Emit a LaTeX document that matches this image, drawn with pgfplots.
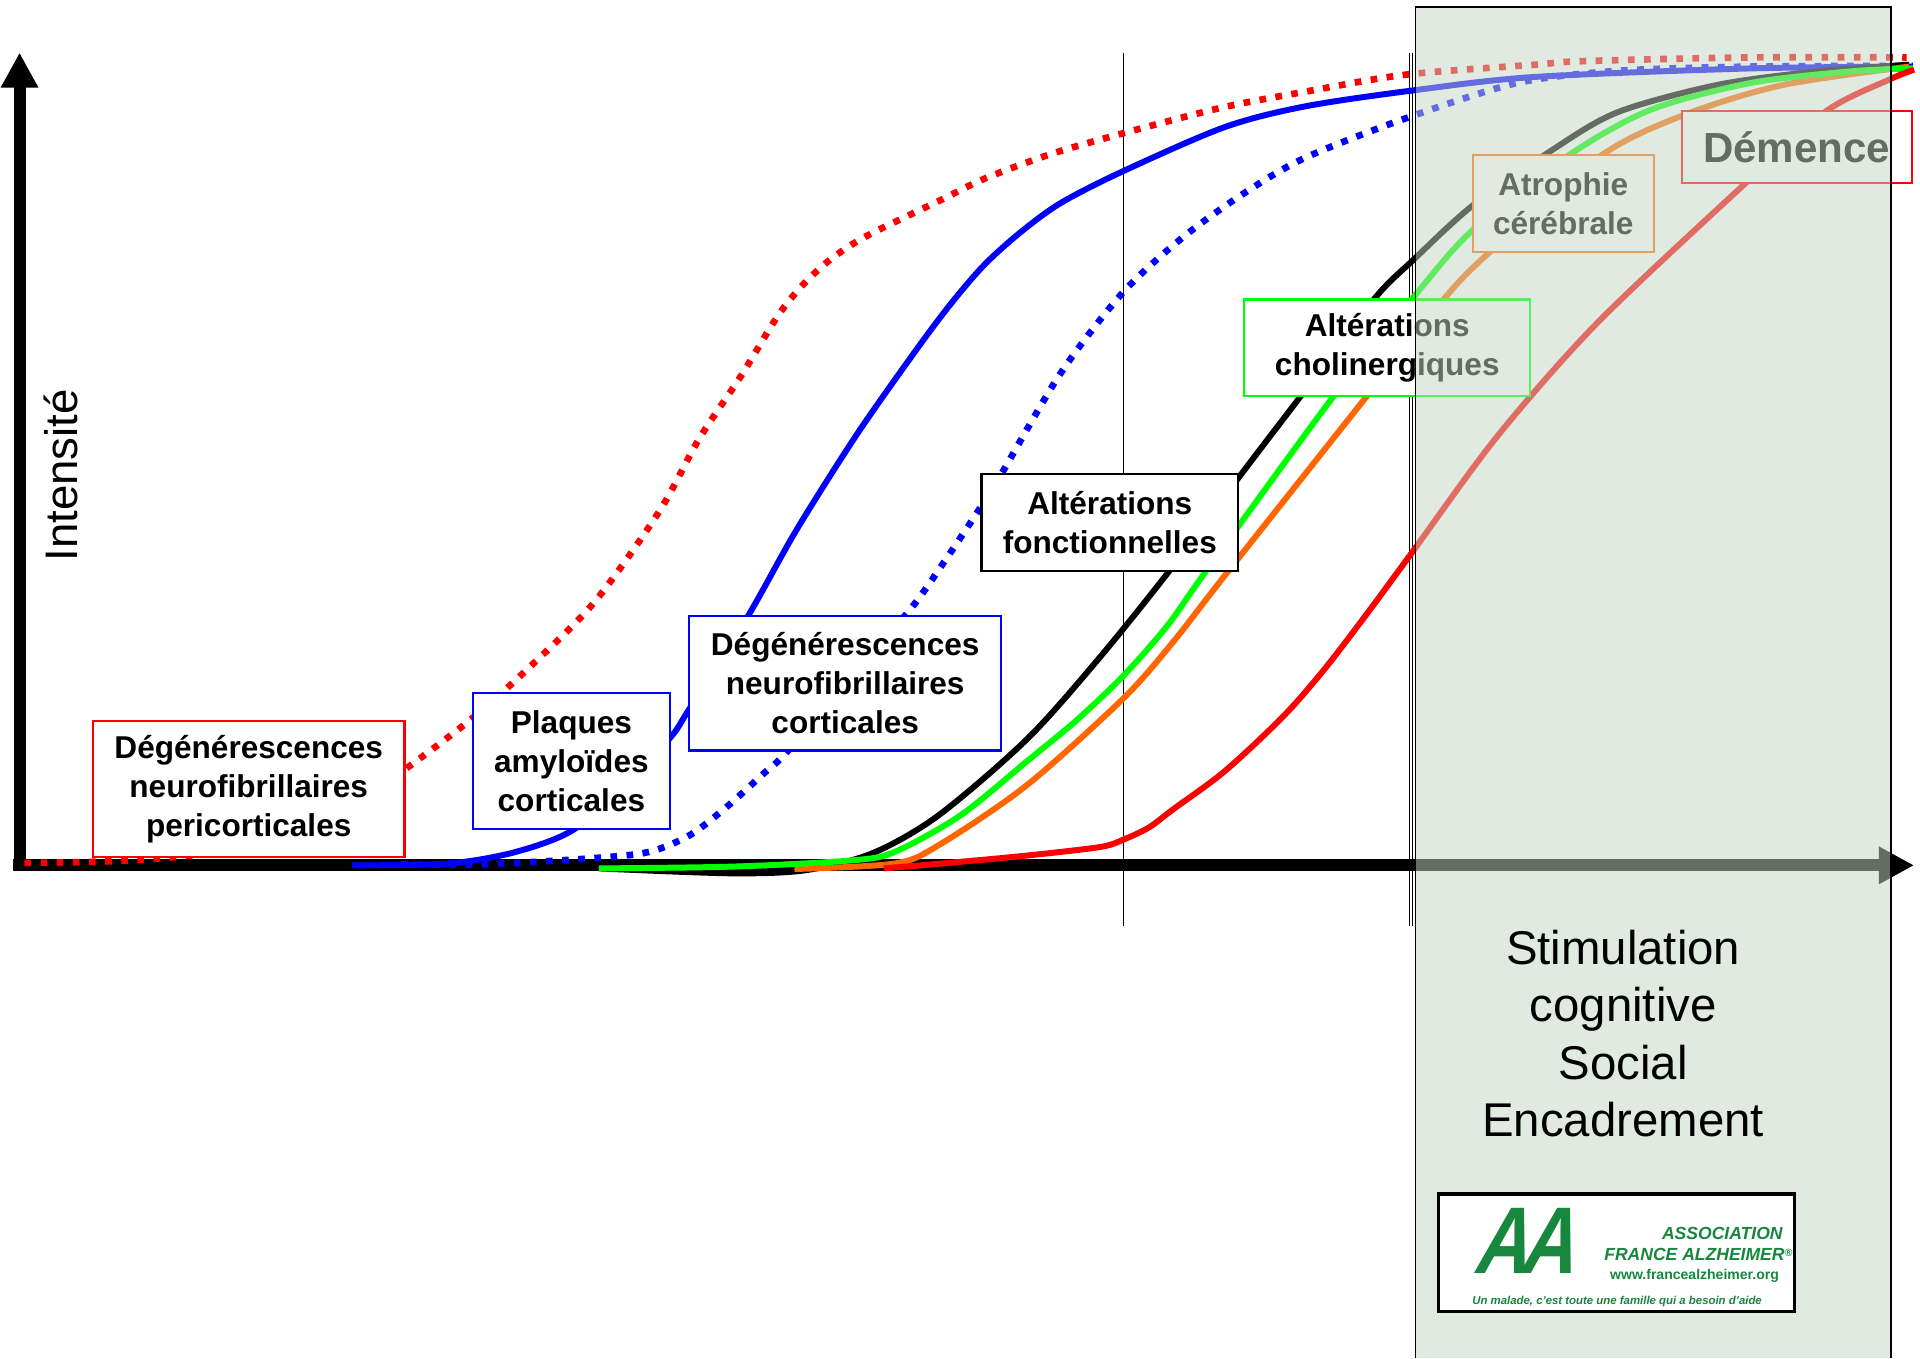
\documentclass[border=0pt]{standalone}
\usepackage{fontspec}
\setmainfont{Liberation Sans}
\newfontfamily\logofont{Liberation Sans Bold}[FakeSlant=0.35]
\usepackage{graphicx}
\usepackage{pgfplots}
\pgfplotsset{compat=1.18}
\usetikzlibrary{arrows.meta}

\definecolor{cred}{RGB}{255,0,0}
\definecolor{cblue}{RGB}{0,0,255}
\definecolor{cgreen}{RGB}{0,255,0}
\definecolor{corange}{RGB}{255,102,0}
\definecolor{panelc}{RGB}{195,214,195}
\definecolor{logogreen}{RGB}{22,135,60}

\tikzset{
  lab/.style={draw, line width=0.6pt, fill=white, inner sep=0pt, align=center,
    font=\bfseries\fontsize{9}{11.1}\selectfont},
  curve/.style={line width=1.7pt, smooth},
  dots/.style={line width=1.9pt, smooth, dash pattern=on 1.9pt off 2.7pt}}

\begin{document}
\begin{tikzpicture}
\begin{axis}[
  width=19.2cm, height=13.604cm, scale only axis, hide axis, clip=false,
  xmin=0, xmax=1568, ymin=-403, ymax=708, no marks]

% keep the full frame in the bounding box
\path (rel axis cs:0,0) rectangle (rel axis cs:1,1);

% time markers
\draw[line width=0.4pt] (axis cs:919,665) -- (axis cs:919,-50);
\draw[line width=0.4pt] (axis cs:1153,665) -- (axis cs:1153,-50);
\draw[line width=0.4pt] (axis cs:1155.5,665) -- (axis cs:1155.5,-50);

% axes
\draw[line width=3.4pt, -{Triangle[length=10pt,width=10pt]}] (axis cs:16,-5) -- (axis cs:16,665);
\draw[line width=3.4pt, -{Triangle[length=10pt,width=10pt]}] (axis cs:11,0) -- (axis cs:1566,0);
\node[rotate=90, font=\fontsize{13}{15}\selectfont] at (axis cs:50,319) {Intensité};

% degenerescences pericorticales
\addplot[cred, dots] coordinates {(20,2) (80,3) (128,5.5) (180,11) (230,22) (280,43) (332,79) (386,120) (432,161) (486,215) (539,289) (572,349) (606,400) (636,449) (656,474) (676,493) (697,508) (719,520) (769,544) (806,562) (860,582) (919,599) (1000,620) (1068,633) (1151,647) (1255,655) (1296,658) (1432,661) (1560,661)};
% plaques amyloides
\addplot[cblue, curve] coordinates {(288,0) (367,1.5) (422,11) (469,29) (510,66) (548,104) (564,128) (612,204) (652,275) (702,354) (752,425) (780,462) (806,492) (835,518) (868,542) (919,568) (1002,604) (1068,621) (1156,634) (1255,645) (1432,652) (1565,653.5)};
% degenerescences corticales
\addplot[cblue, dots] coordinates {(328,1) (400,1) (487,6) (531,11) (564,24.5) (593,46.5) (623,73.5) (644,93) (700,158) (746,211) (775,252) (799,288) (818,318) (868,403) (919,469) (968,514) (1018,550) (1068,579) (1151,611.5) (1241,640) (1323,650) (1432,653.5) (1565,654)};
% alterations fonctionnelles
\addplot[black, curve] coordinates {(490,-2.5) (597,-6.5) (659,-4) (714,10) (768,41) (840,103) (898,168) (956,240) (1014,318) (1062,381) (1124,463) (1157,496) (1205,540) (1268,584) (1323,616) (1405,638.5) (1486,649.5) (1562,655)};
% atrophie
\addplot[corange, curve] coordinates {(650,-3) (732,1.5) (768,16.5) (840,65.5) (919,136.5) (960,183) (1002,237) (1116,381) (1181,463) (1218,501) (1309,580) (1378,614) (1459,638.5) (1562,653.5)};
% cholinergiques
\addplot[cgreen, curve] coordinates {(490,-2.5) (600,-1) (696,4) (732,11) (786,41) (840,85) (880,118) (919,155) (955,196) (988,242.5) (1089,381) (1157,465.5) (1205,520) (1282,580) (1350,618) (1432,640) (1513,649.5) (1565,652)};
% demence
\addplot[cred, curve] coordinates {(723,-2.5) (776,2) (840,8) (900,15) (919,21) (940,31) (960,46) (1002,77) (1050,122) (1084,161) (1120,208) (1156,257) (1225,351) (1307,444) (1428,558) (1494,617) (1546,643) (1566,651)};

% labels
\node[lab, draw=cred, minimum width=3.122cm, minimum height=1.359cm] at (axis cs:203.5,62.5) {Dégénérescences\\neurofibrillaires\\pericorticales};
\node[lab, draw=cblue, minimum width=1.971cm, minimum height=1.359cm] at (axis cs:467.5,85.5) {Plaques\\amyloïdes\\corticales};
\node[lab, draw=cblue, minimum width=3.122cm, minimum height=1.347cm] at (axis cs:691.5,149) {Dégénérescences\\neurofibrillaires\\corticales};
\node[lab, draw=black, minimum width=2.571cm, minimum height=0.967cm] at (axis cs:908,280.5) {Altérations\\fonctionnelles};
\node[lab, draw=cgreen, minimum width=2.865cm, minimum height=0.967cm] at (axis cs:1135,423.5) {Altérations\\cholinergiques};
\node[lab, draw=corange, minimum width=1.812cm, minimum height=0.967cm] at (axis cs:1279,541.5) {Atrophie\\cérébrale};
\node[lab, draw=cred, minimum width=2.302cm, minimum height=0.722cm, font=\bfseries\fontsize{12}{14}\selectfont] at (axis cs:1470,587.5) {Démence};

% care panel
\fill[panelc, fill opacity=0.51] (axis cs:1158,-403) rectangle (axis cs:1547,702);
\draw[line width=0.5pt] (axis cs:1158,-403) -- (axis cs:1158,702) -- (axis cs:1547,702) -- (axis cs:1547,-403);
\node[align=center, font=\fontsize{13.5}{16.4}\selectfont] at (axis cs:1328,-137.5) {Stimulation\\cognitive\\Social\\Encadrement};

% logo
\node[draw=black, line width=1pt, fill=white, minimum width=3.563cm, minimum height=1.176cm, inner sep=0pt] at (axis cs:1322.5,-317) {};
\node[text=logogreen, font=\logofont\fontsize{27}{27}\selectfont, inner sep=0pt] at (axis cs:1246,-307) {\scalebox{0.8}[1]{A\kern-0.12em A}};
\node[text=logogreen, anchor=east, inner sep=0pt, font=\bfseries\itshape\fontsize{5}{6}\selectfont] at (axis cs:1459,-301.4) {ASSOCIATION};
\node[text=logogreen, anchor=east, inner sep=0pt, font=\bfseries\itshape\fontsize{5}{6}\selectfont] at (axis cs:1467,-318.6) {FRANCE ALZHEIMER\raisebox{0.5ex}{\fontsize{3}{3}\selectfont ®}};
\node[text=logogreen, anchor=east, inner sep=0pt, font=\bfseries\fontsize{4}{5}\selectfont] at (axis cs:1456,-335.7) {www.francealzheimer.org};
\node[text=logogreen, inner sep=0pt, font=\bfseries\itshape\fontsize{3.25}{4}\selectfont] at (axis cs:1323,-357) {Un malade, c'est toute une famille qui a besoin d'aide};
\end{axis}
\end{tikzpicture}
\end{document}
